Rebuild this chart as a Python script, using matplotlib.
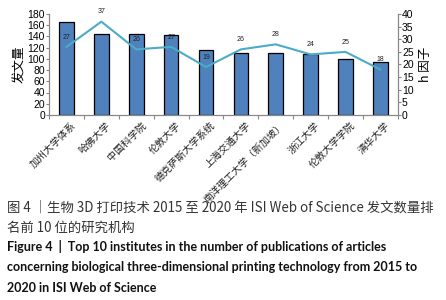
import matplotlib
matplotlib.use("Agg")
import matplotlib.pyplot as plt
import numpy as np

plt.rcParams['font.family'] = ['Noto Sans CJK SC', 'DejaVu Sans']

institutes = ["加州大学体系", "哈佛大学", "中国科学院", "伦敦大学", "德克萨斯大学系统",
              "上海交通大学", "南洋理工大学（新加坡）", "浙江大学", "伦敦大学学院", "清华大学"]
publications = [166, 144, 144, 142, 116, 110, 110, 108, 100, 95]
h_index = [27, 37, 26, 27, 19, 26, 28, 24, 25, 18]
left_ticks = list(range(0, 181, 20))
right_ticks = list(range(0, 41, 5))

fig = plt.figure(figsize=(4.46, 3.0), dpi=100)
ax = fig.add_axes([0.110, 0.617, 0.782, 0.336])
x = np.arange(len(institutes))
ax.bar(x, publications, width=0.42, color='#4F81BD', edgecolor='black', linewidth=0.9, zorder=2)
ax.set_xlim(-0.5, len(institutes) - 0.5)
ax.set_ylim(0, 180)
ax.set_yticks(left_ticks)
ax.set_yticklabels([str(t) for t in left_ticks], family=['Liberation Sans'])
ax.tick_params(axis='y', labelsize=7.5, length=2, pad=1, color='#888888')
ax.set_xticks(np.arange(-0.5, len(institutes), 1.0), minor=False)
ax.set_xticklabels([])
ax.tick_params(axis='x', length=3, color='#888888')
for i, name in enumerate(institutes):
    ax.text(i + 0.12, -9, name, rotation=45, ha='right', va='top', fontsize=7.2,
            color='#222222', transform=ax.transData, rotation_mode='anchor')
ax.set_ylabel('发文量', fontsize=9, labelpad=1)
ax.spines['top'].set_visible(False)
for s in ['left', 'right', 'bottom']:
    ax.spines[s].set_color('#888888')

ax2 = ax.twinx()
ax2.plot(x, h_index, color='#4BACC6', linewidth=1.5, zorder=3)
ax2.set_ylim(0, 40)
ax2.set_yticks(right_ticks)
ax2.set_yticklabels([str(t) for t in right_ticks], family=['Liberation Sans'])
ax2.tick_params(axis='y', labelsize=7.5, length=2, pad=1, color='#888888')
ax2.set_ylabel('h 因子', fontsize=9, rotation=90, labelpad=4)
ax2.spines['top'].set_visible(False)
for s in ['left', 'right', 'bottom']:
    ax2.spines[s].set_color('#888888')
for i, v in enumerate(h_index):
    ax2.annotate(str(v), (i, v), xytext=(0, 4.5), textcoords='offset points',
                 ha='center', va='bottom', fontsize=5, color='#222222',
                 family=['Liberation Sans'])

fig.text(0.015, 0.307, '图 4 ｜生物 3D 打印技术 2015 至 2020 年 ISI Web of Science 发文数量排',
         fontsize=9.6, color='#333333', va='center')
fig.text(0.015, 0.240, '名前 10 位的研究机构', fontsize=9.6, color='#333333', va='center')
cap_font = ['Lato', 'DejaVu Sans']
fig.text(0.015, 0.177, 'Figure 4  |  Top 10 institutes in the number of publications of articles',
         fontsize=9.0, fontweight='bold', color='#111111', va='center', family=cap_font)
fig.text(0.015, 0.110, 'concerning biological three-dimensional printing technology from 2015 to',
         fontsize=9.0, fontweight='bold', color='#111111', va='center', family=cap_font)
fig.text(0.015, 0.040, '2020 in ISI Web of Science',
         fontsize=9.0, fontweight='bold', color='#111111', va='center', family=cap_font)

fig.savefig('out.png', dpi=100)
